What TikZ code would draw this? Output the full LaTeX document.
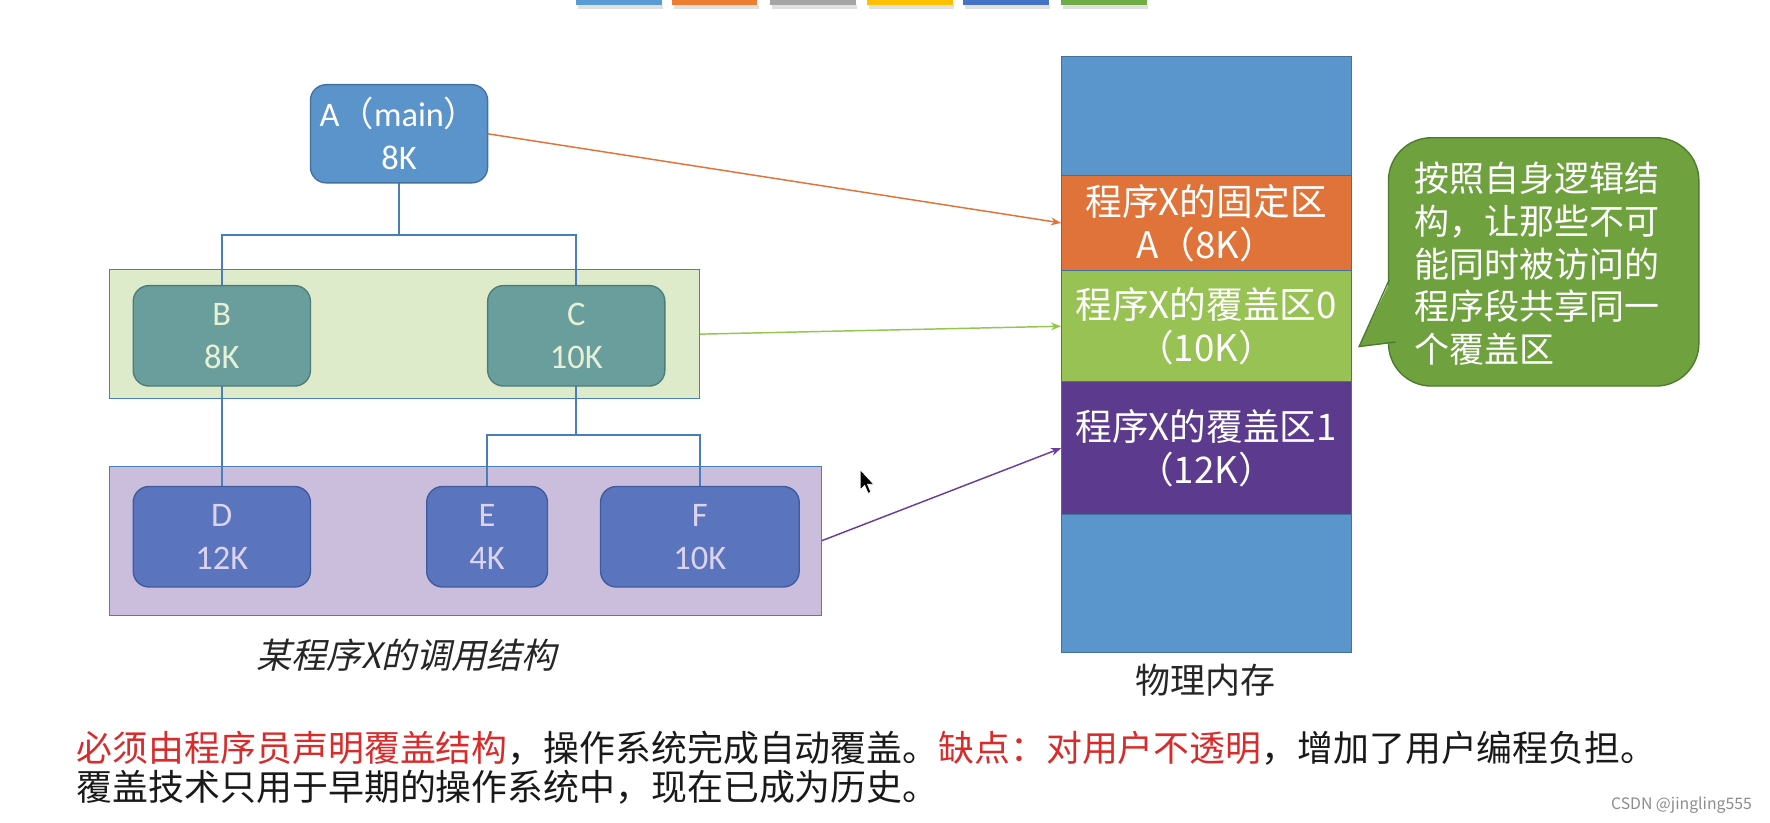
\documentclass[tikz,border=0pt]{standalone}
\usepackage{fontspec}
\setmainfont{Noto Sans CJK SC}
\newfontfamily\lat{Carlito}
\newfontfamily\cjkit[FakeSlant=0.22]{Noto Sans CJK SC}
\usetikzlibrary{arrows.meta}
\definecolor{ablue}{HTML}{5B93CB}
\definecolor{aborder}{HTML}{41719C}
\definecolor{teal}{HTML}{6A9E9C}
\definecolor{tealborder}{HTML}{4F7C7A}
\definecolor{tealtext}{HTML}{E6F0D6}
\definecolor{bandgreen}{HTML}{DDEBCB}
\definecolor{bandpurple}{HTML}{CBBEDD}
\definecolor{bandborder}{HTML}{4A7EBB}
\definecolor{dblue}{HTML}{5B74BE}
\definecolor{dborder}{HTML}{3F5B9E}
\definecolor{dtext}{HTML}{DCD3EC}
\definecolor{memblue}{HTML}{5A96CB}
\definecolor{memorange}{HTML}{E07339}
\definecolor{memgreen}{HTML}{98C253}
\definecolor{mempurple}{HTML}{5C3A8E}
\definecolor{linkblue}{HTML}{4A7EBB}
\definecolor{cfill}{HTML}{6FA13F}
\definecolor{cborder}{HTML}{4E7A2C}
\definecolor{redtext}{HTML}{D92B2B}
\definecolor{arrorange}{HTML}{E07339}
\definecolor{arrgreen}{HTML}{92C84E}
\definecolor{arrpurple}{HTML}{6A3E9A}
\definecolor{bar1}{HTML}{5B9BD5}
\definecolor{bar2}{HTML}{ED7D31}
\definecolor{bar3}{HTML}{A5A5A5}
\definecolor{bar4}{HTML}{FFC000}
\definecolor{bar5}{HTML}{4472C4}
\definecolor{bar6}{HTML}{70AD47}
\tikzset{
  rbox/.style={rounded corners=14pt, line width=1.2pt, inner sep=0pt, outer sep=0pt, align=center,
    font=\lat\fontsize{30.5}{38}\selectfont},
  abox/.style={rbox, fill=ablue, draw=aborder, text=white},
  tbox/.style={rbox, fill=teal, draw=tealborder, text=tealtext},
  dbox/.style={rbox, fill=dblue, draw=dborder, text=dtext},
  band/.style={draw=bandborder, line width=1pt, inner sep=0pt, outer sep=0pt},
  link/.style={draw=linkblue, line width=1.6pt},
  mem/.style={draw=aborder, line width=0.8pt, inner sep=0pt, outer sep=0pt, minimum width=257pt,
    text=white, align=center, font=\fontsize{32.5}{38}\selectfont},
  maparrow/.style={line width=1.3pt, -{Stealth[length=9pt,width=7pt]}},
  bar/.style={inner sep=0pt, minimum height=4pt, minimum width=76pt}
}
\begin{document}
\begin{tikzpicture}[x=1pt,y=-1pt]
\useasboundingbox (0,0) rectangle (1568,728.2);
\fill[white] (0,0) rectangle (1568,728.2);
% top colour bars
\foreach \c/\xa in {bar1/510,bar2/595,bar3/682,bar4/768,bar5/853,bar6/940}{
  \fill[black,opacity=0.12] (\xa+2,4) rectangle (\xa+77,8);
  \fill[\c] (\xa,0) rectangle (\xa+76,4);
}
% bands
\node[band, fill=bandgreen, minimum width=523pt, minimum height=114pt] (G) at (358.5,296) {};
\node[band, fill=bandpurple, minimum width=631pt, minimum height=132pt] (P) at (412.5,479) {};
% tree node anchors (invisible placeholders for routing)
\node[minimum width=157pt, minimum height=87pt, inner sep=0pt, outer sep=0pt] (A) at (353.5,118.5) {};
\node[minimum width=157pt, minimum height=89pt, inner sep=0pt, outer sep=0pt] (B) at (196.5,297.5) {};
\node[minimum width=157pt, minimum height=89pt, inner sep=0pt, outer sep=0pt] (C) at (510.5,297.5) {};
\node[minimum width=157pt, minimum height=89pt, inner sep=0pt, outer sep=0pt] (D) at (196.5,475.5) {};
\node[minimum width=107pt, minimum height=89pt, inner sep=0pt, outer sep=0pt] (E) at (431.5,475.5) {};
\node[minimum width=176pt, minimum height=89pt, inner sep=0pt, outer sep=0pt] (F) at (620,475.5) {};
% connectors
\draw[link] (A.south) -- ++(0,46) -| (B.north);
\draw[link] (A.south) ++(0,46) -| (C.north);
\draw[link] (B.south) -- (D.north);
\draw[link] (C.south) -- ++(0,43) -| (E.north);
\draw[link] (C.south) ++(0,43) -| (F.north);
% boxes
\node[abox, minimum width=157pt, minimum height=87pt] (Abox) at (A) {A{\fontspec{Noto Sans CJK SC}（}main{\fontspec{Noto Sans CJK SC}）}\\8K};
\node[tbox, minimum width=157pt, minimum height=89pt] (Bbox) at (B) {B\\8K};
\node[tbox, minimum width=157pt, minimum height=89pt] (Cbox) at (C) {C\\10K};
\node[dbox, minimum width=157pt, minimum height=89pt] (Dbox) at (D) {D\\12K};
\node[dbox, minimum width=107pt, minimum height=89pt] (Ebox) at (E) {E\\4K};
\node[dbox, minimum width=176pt, minimum height=89pt] (Fbox) at (F) {F\\10K};
\node[font=\cjkit\fontsize{31}{36}\selectfont, text=black!85] (cap) at (360,580) {某程序X的调用结构};
% memory
\node[mem, fill=memblue, minimum height=105pt] (M1) at (1068.5,102.5) {};
\node[mem, fill=memorange, minimum height=85pt] (M2) at (1068.5,197.5) {程序X的固定区\\A（8K）};
\node[mem, fill=memgreen, minimum height=98pt] (M3) at (1068.5,289) {程序X的覆盖区0\\（10K）};
\node[mem, fill=mempurple, minimum height=118pt] (M4) at (1068.5,397) {程序X的覆盖区1\\（12K）};
\node[mem, fill=memblue, minimum height=122pt] (M5) at (1068.5,517) {};
\node[font=\fontsize{31}{36}\selectfont, text=black!85] (ml) at (1068,603) {物理内存};
% mapping arrows
\draw[maparrow, arrorange] (Abox.east) -- (M2.west);
\draw[maparrow, arrgreen] (G.east) -- (M3.west);
\draw[maparrow, arrpurple] (P.east) -- (M4.west);
% callout
\draw[fill=cfill, draw=cborder, line width=1.2pt, rounded corners=38pt] (1230,122) rectangle (1505,342);
\fill[cfill] (1233,246) -- (1204,307) -- (1240,303) -- cycle;
\draw[cborder, line width=1.2pt, line join=miter] (1230.6,248) -- (1204,307) -- (1236,303);
\node[anchor=north west, inner sep=0pt, align=left, text=white, font=\fontsize{31}{38}\selectfont] (note) at (1253,143)
  {按照自身逻辑结\\构，让那些不可\\能同时被访问的\\程序段共享同一\\个覆盖区};
% cursor
\filldraw[fill=black, draw=white, line width=0.6pt] (762,416) -- (762,434) -- (766,430) -- (769,437) -- (771.5,436) -- (768.5,429) -- (774,429) -- cycle;
% bottom text
\node[anchor=west, inner sep=0pt, text=black!90, font=\fontsize{31.8}{36}\selectfont] (t1) at (68,663)
  {{\color{redtext}必须由程序员声明覆盖结构}，操作系统完成自动覆盖。{\color{redtext}缺点：对用户不透明}，增加了用户编程负担。};
\node[anchor=west, inner sep=0pt, text=black!90, font=\fontsize{31.8}{36}\selectfont] (t2) at (68,697)
  {覆盖技术只用于早期的操作系统中，现在已成为历史。};
\node[anchor=west, inner sep=0pt, text=black!45, font=\fontsize{14}{16}\selectfont] (wm) at (1427,713) {CSDN @jingling555};
\end{tikzpicture}
\end{document}
